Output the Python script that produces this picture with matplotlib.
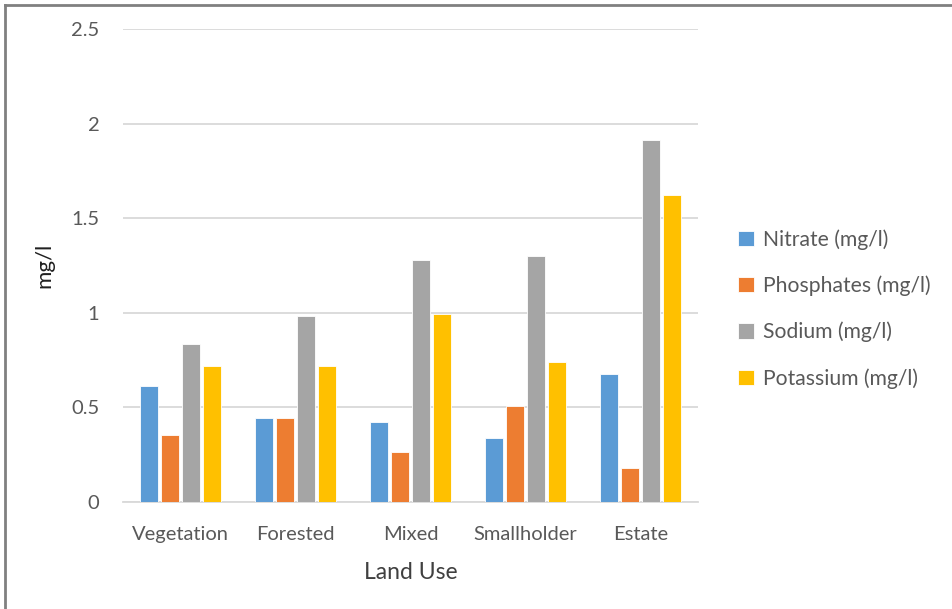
import numpy as np
import matplotlib
matplotlib.use("Agg")
import matplotlib.pyplot as plt
from matplotlib.lines import Line2D

plt.rcParams['font.family'] = ['Lato', 'DejaVu Sans']

land_use = ['Vegetation', 'Forested', 'Mixed', 'Smallholder', 'Estate']
nitrate = [0.614, 0.446, 0.423, 0.340, 0.677]
phosphates = [0.352, 0.446, 0.265, 0.508, 0.182]
sodium = [0.835, 0.981, 1.277, 1.300, 1.912]
potassium = [0.718, 0.718, 0.994, 0.739, 1.625]
series_names = ['Nitrate (mg/l)', 'Phosphates (mg/l)', 'Sodium (mg/l)', 'Potassium (mg/l)']
colors = ['#5B9BD5', '#ED7D31', '#A5A5A5', '#FFC000']
yticks = [0, 0.5, 1, 1.5, 2, 2.5]

W, H = 952, 609
fig = plt.figure(figsize=(W / 100, H / 100), dpi=100)
ax = fig.add_axes([123 / W, 1 - 502 / H, (698 - 123) / W, (502 - 29) / H])

x = np.arange(len(land_use))
stride, bw = 0.183, 0.155
for i, (vals, name, c) in enumerate(zip([nitrate, phosphates, sodium, potassium], series_names, colors)):
    ax.bar(x + (i - 1.5) * stride, vals, width=bw, color=c, label=name,
           edgecolor='white', linewidth=0.6, zorder=3)

ax.set_xlim(-0.5, 4.5)
ax.set_ylim(0, 2.5)
ax.set_yticks(yticks)
ax.set_yticklabels(['0', '0.5', '1', '1.5', '2', '2.5'])
ax.set_xticks(x)
ax.set_xticklabels(land_use)
ax.grid(axis='y', color='#D9D9D9', linewidth=1.3, zorder=0)
for s in ['top', 'right', 'left']:
    ax.spines[s].set_visible(False)
ax.spines['bottom'].set_color('#D9D9D9')
ax.spines['bottom'].set_linewidth(1.3)
ax.tick_params(axis='both', length=0, labelsize=14.5, colors='#595959')
ax.tick_params(axis='y', pad=17)
ax.tick_params(axis='x', pad=17)
ax.set_xlabel('Land Use', fontsize=16.5, color='#404040', labelpad=14)
ax.set_ylabel('mg/l', fontsize=16, color='#202020', labelpad=12)

leg = fig.legend(loc='center left', bbox_to_anchor=(719 / W, 1 - 309 / H), frameon=False,
                 fontsize=15.2, handlelength=0.75, handleheight=0.75, handletextpad=0.45,
                 labelspacing=1.22, labelcolor='#595959')

# chart frame
fig.add_artist(Line2D([5 / W, 1], [1 - 5 / H, 1 - 5 / H], color='#808080', lw=2, transform=fig.transFigure))
fig.add_artist(Line2D([5 / W, 5 / W], [0, 1 - 5 / H], color='#808080', lw=2, transform=fig.transFigure))

fig.savefig('out.png', dpi=100)
